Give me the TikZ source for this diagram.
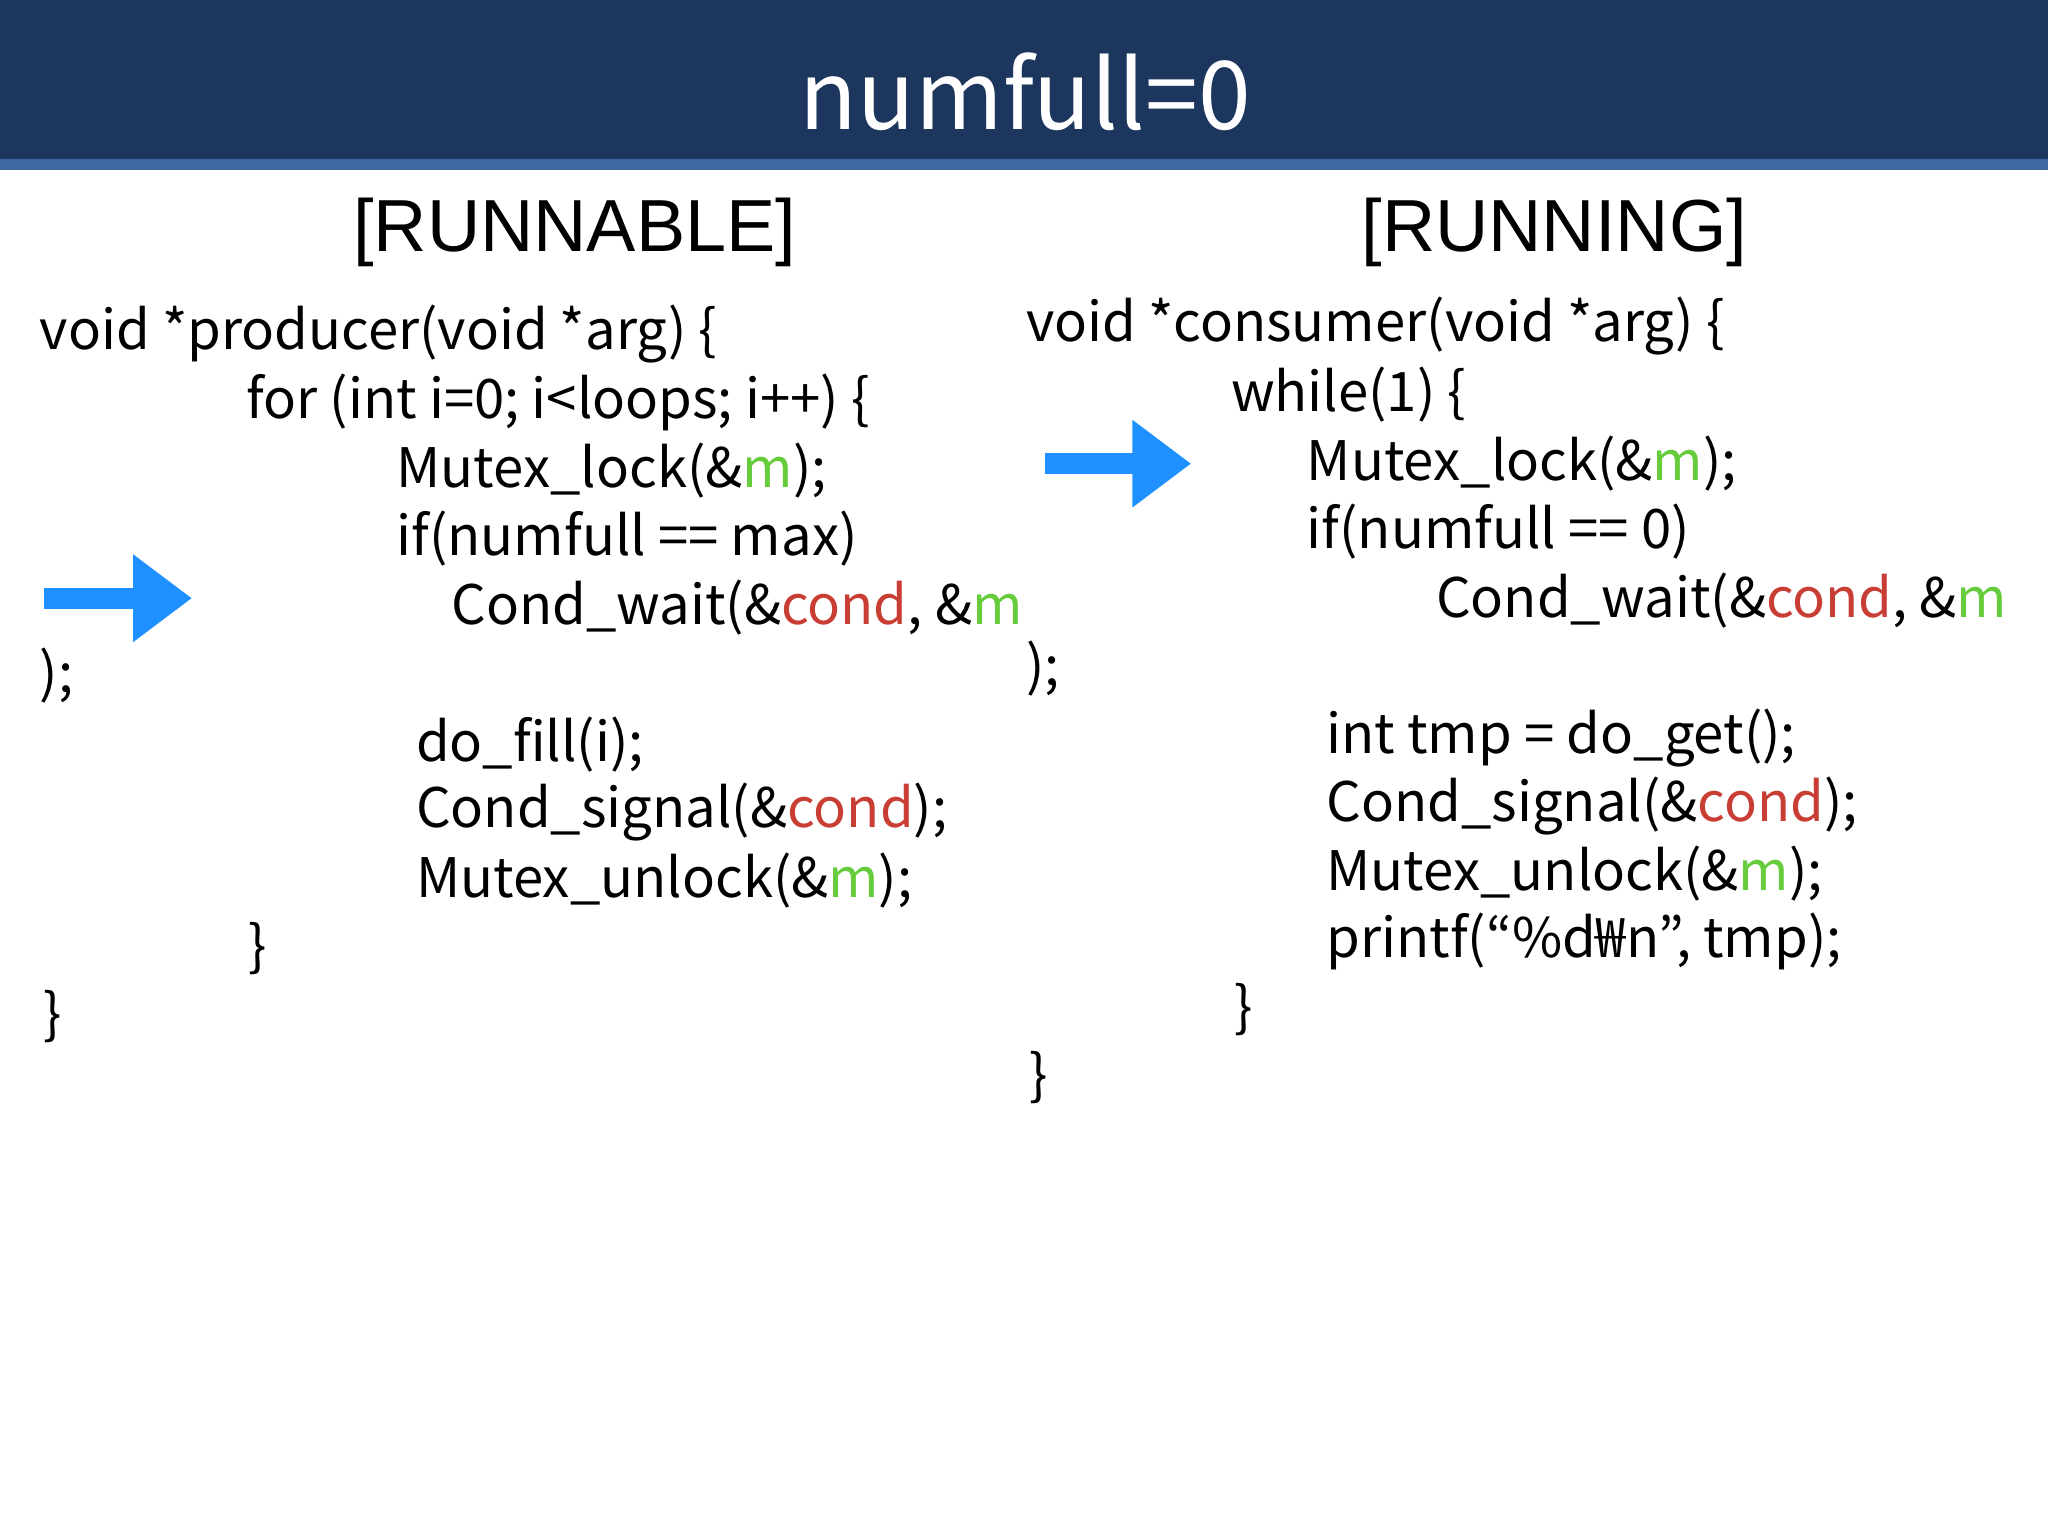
\documentclass[tikz,border=0pt]{standalone}
\usepackage{fontspec}
\setmainfont{Noto Sans CJK KR}
\newfontfamily\hdfont{Liberation Sans}
\definecolor{hdblue}{RGB}{28,54,93}
\definecolor{hdline}{RGB}{62,104,160}
\definecolor{condred}{RGB}{200,62,52}
\definecolor{mgreen}{RGB}{102,204,60}
\definecolor{arrowblue}{RGB}{30,144,255}
\newcommand{\rd}[1]{\textcolor{condred}{#1}}
\newcommand{\gr}[1]{\textcolor{mgreen}{#1}}
\begin{document}
\begin{tikzpicture}[x=0.01306cm,y=-0.01306cm,
    code/.style={anchor=west,inner sep=0pt,font=\fontsize{15.5}{18}\selectfont},
    state/.style={inner sep=0pt,font=\hdfont\fontsize{21}{25}\selectfont},
    pointer/.style={arrowblue,line width=16*0.01306cm,-{Triangle[length=45*0.01306cm,width=64*0.01306cm]}}]
    \usetikzlibrary{arrows.meta}
    \useasboundingbox (0,0) rectangle (1568,1176);
    % header
    \fill[hdblue] (0,0) rectangle (1568,122);
    \fill[hdline] (0,122) rectangle (1568,130);
    \node[inner sep=0pt,text=white,font=\fontsize{27}{32}\selectfont] (title) at (785,70) {numfull=0};
    \node[state] (runnable) at (440,178) {[RUNNABLE]};
    \node[state] (running) at (1190,178) {[RUNNING]};
    % producer
    \node[code] (p1) at (30,256) {void *producer(void *arg) \{};
    \node[code] (p2) at (188,308) {for (int i=0; i<loops; i++) \{};
    \node[code] (p3) at (303,360) {Mutex\_lock(\&\gr{m});};
    \node[code] (p4) at (303,412) {if(numfull == max)};
    \node[code] (p5) at (345,465) {Cond\_wait(\&\rd{cond}, \&\gr{m}};
    \node[code] (p6) at (30,517) {);};
    \node[code] (p7) at (318,570) {do\_fill(i);};
    \node[code] (p8) at (318,622) {Cond\_signal(\&\rd{cond});};
    \node[code] (p9) at (318,674) {Mutex\_unlock(\&\gr{m});};
    \node[code] (p10) at (190,726) {\}};
    \node[code] (p11) at (33,778) {\}};
    % consumer
    \node[code] (c1) at (785,250) {void *consumer(void *arg) \{};
    \node[code] (c2) at (942,302) {while(1) \{};
    \node[code] (c3) at (1000,355) {Mutex\_lock(\&\gr{m});};
    \node[code] (c4) at (1000,407) {if(numfull == 0)};
    \node[code] (c5) at (1099,460) {Cond\_wait(\&\rd{cond}, \&\gr{m}};
    \node[code] (c6) at (785,512) {);};
    \node[code] (c7) at (1015,565) {int tmp = do\_get();};
    \node[code] (c8) at (1015,617) {Cond\_signal(\&\rd{cond});};
    \node[code] (c9) at (1015,669) {Mutex\_unlock(\&\gr{m});};
    \node[code] (c10) at (1015,721) {printf(“\%d₩n”, tmp);};
    \node[code] (c11) at (945,773) {\}};
    \node[code] (c12) at (788,825) {\}};
    % pointers
    \coordinate (pa) at (34,458);
    \coordinate (pb) at (147,458);
    \coordinate (ca) at (800,355);
    \coordinate (cb) at (912,355);
    \draw[pointer] (pa) -- (pb);
    \draw[pointer] (ca) -- (cb);
\end{tikzpicture}
\end{document}
